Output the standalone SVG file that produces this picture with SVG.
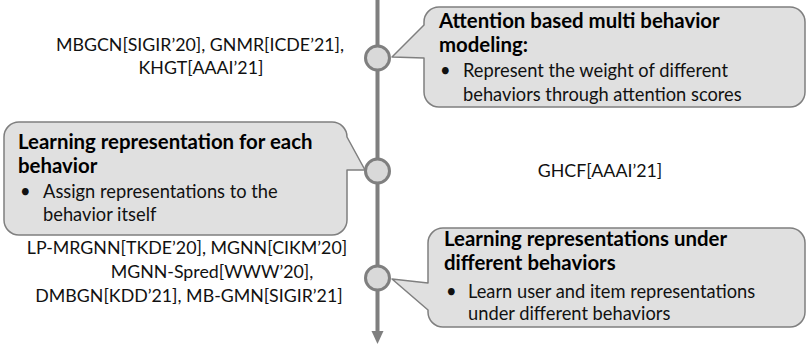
<svg xmlns="http://www.w3.org/2000/svg" width="807" height="347" viewBox="0 0 807 347">
<style>
  .callout { fill: #e0e0e0; stroke: #7f7f7f; stroke-width: 1.5; stroke-linejoin: round; }
  .dot { fill: #d9d9d9; stroke: #7f7f7f; stroke-width: 3; }
  .axis { stroke: #7f7f7f; stroke-width: 4; fill: none; }
  .head { font-family: Lato, "Liberation Sans", sans-serif; font-weight: bold; font-size: 20.4px; fill: #000; }
  .body { font-family: Lato, "Liberation Sans", sans-serif; font-size: 18.3px; fill: #111; }
  .ref { font-family: Lato, "Liberation Sans", sans-serif; font-size: 17.8px; fill: #111; text-anchor: middle; }
</style>
<rect width="807" height="347" fill="#ffffff"/>
<g id="connectors">
  <line class="axis" x1="377.5" y1="0" x2="377.5" y2="333"/>
  <polygon points="371.5,331 383.5,331 377.5,344" fill="#7f7f7f"/>
</g>
<g id="node-attention">
  <path class="callout" d="M439,7 H790 A15 15 0 0 1 805,22 V92 A15 15 0 0 1 790,107 H439 A15 15 0 0 1 424,92 V58 L392,57 L424,25 V22 A15 15 0 0 1 439,7 Z"/>
  <text class="head" x="439" y="28">Attention based multi behavior</text>
  <text class="head" x="439" y="52">modeling:</text>
  <text class="body" x="440" y="77">•</text>
  <text class="body" x="463" y="77">Represent the weight of different</text>
  <text class="body" x="463" y="101">behaviors through attention scores</text>
</g>
<g id="node-each">
  <path class="callout" d="M19,122 H332 A15 15 0 0 1 347,137 L365,170 L347,170 V220 A15 15 0 0 1 332,235 H19 A15 15 0 0 1 4,220 V137 A15 15 0 0 1 19,122 Z"/>
  <text class="head" x="18" y="149">Learning representation for each</text>
  <text class="head" x="18" y="173">behavior</text>
  <text class="body" x="20" y="198">•</text>
  <text class="body" x="43" y="198">Assign representations to the</text>
  <text class="body" x="43" y="221">behavior itself</text>
</g>
<g id="node-under">
  <path class="callout" d="M443,228 H790 A15 15 0 0 1 805,243 V312 A15 15 0 0 1 790,327 H443 A15 15 0 0 1 428,312 V310 L392,279 L428,283 V243 A15 15 0 0 1 443,228 Z"/>
  <text class="head" x="444" y="246">Learning representations under</text>
  <text class="head" x="444" y="270">different behaviors</text>
  <text class="body" x="446" y="298">•</text>
  <text class="body" x="468" y="298">Learn user and item representations</text>
  <text class="body" x="468" y="320">under different behaviors</text>
</g>
<g id="node-dot1"><circle class="dot" cx="377.5" cy="58" r="12"/></g>
<g id="node-dot2"><circle class="dot" cx="377.5" cy="171" r="12"/></g>
<g id="node-dot3"><circle class="dot" cx="377.5" cy="278" r="12"/></g>
<g id="label-top">
  <text class="ref" x="200" y="51">MBGCN[SIGIR’20], GNMR[ICDE’21],</text>
  <text class="ref" x="201" y="74">KHGT[AAAI’21]</text>
</g>
<g id="label-mid">
  <text class="ref" x="600" y="177">GHCF[AAAI’21]</text>
</g>
<g id="label-bottom">
  <text class="ref" x="187" y="254">LP-MRGNN[TKDE’20], MGNN[CIKM’20]</text>
  <text class="ref" x="212" y="278">MGNN-Spred[WWW’20],</text>
  <text class="ref" x="189" y="302">DMBGN[KDD’21], MB-GMN[SIGIR’21]</text>
</g>
</svg>
